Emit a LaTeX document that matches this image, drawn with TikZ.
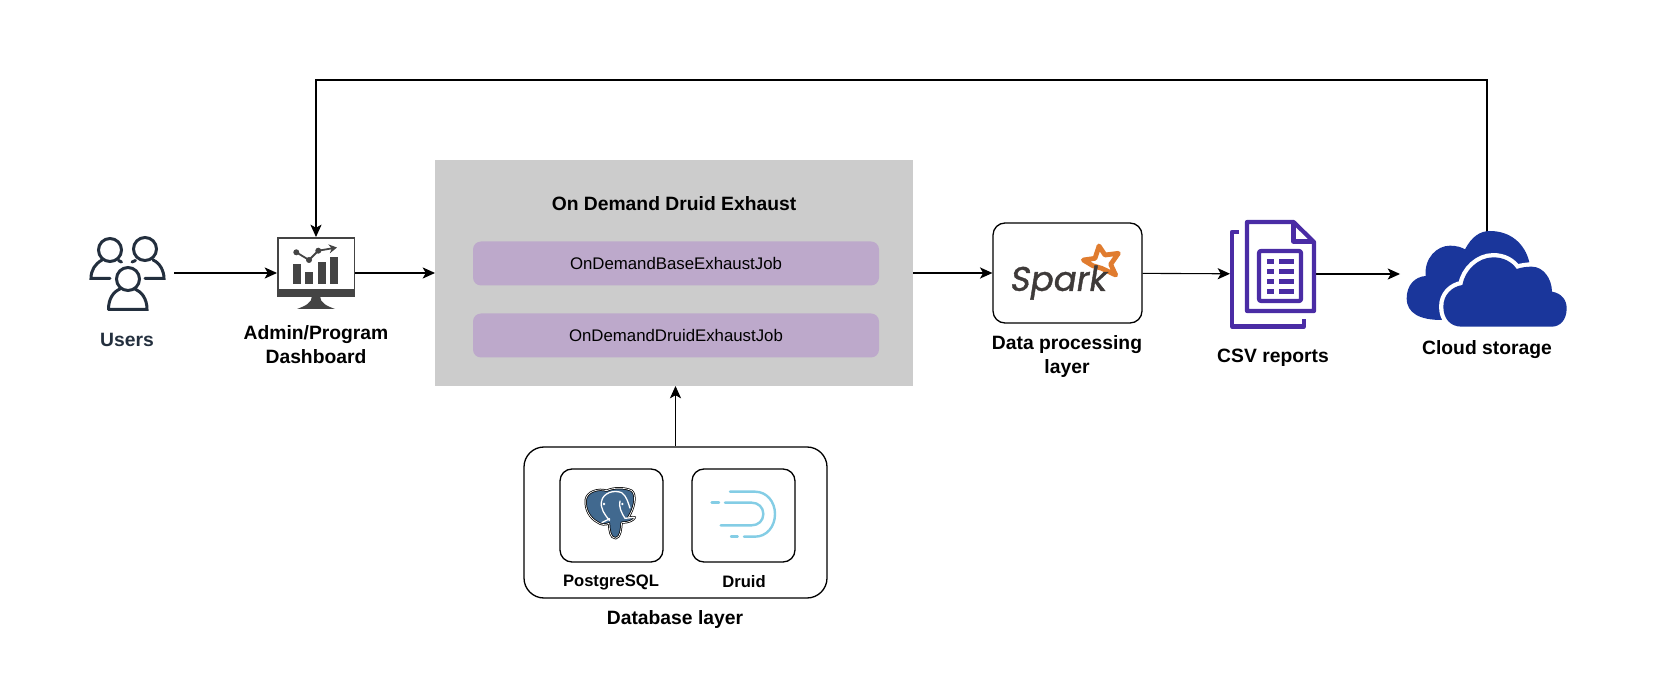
\documentclass[tikz,border=0pt]{standalone}
\usepackage{fontspec}
\setmainfont{Liberation Sans}
\newfontfamily\sparkfont[FakeSlant=0.16, FakeBold=1.2]{Poppins}
\usetikzlibrary{arrows.meta}

\definecolor{usersink}{HTML}{232F3E}
\definecolor{monitorgray}{HTML}{444444}
\definecolor{boxgray}{HTML}{CCCCCC}
\definecolor{jobpurple}{HTML}{BDA9CB}
\definecolor{csvpurple}{HTML}{4A2CA5}
\definecolor{cloudblue}{HTML}{1A369B}
\definecolor{pgblue}{HTML}{41698F}
\definecolor{druidblue}{HTML}{84CDE5}
\definecolor{sparkorange}{HTML}{E07C2F}
\definecolor{sparkink}{HTML}{3E3A39}

\tikzset{
	conn/.style={line width=0.55pt, -{Stealth[length=6.2pt, width=5.6pt, inset=1.6pt]}},
	bound/.style={inner sep=0pt, outer sep=0pt},
	tile/.style={draw, line width=0.65pt, fill=white, inner sep=0pt, rounded corners=6pt},
	jobrow/.style={fill=jobpurple, inner sep=0pt, rounded corners=4pt, minimum width=203pt, minimum height=22pt, font=\fontsize{8.4}{10}\selectfont},
	lbl/.style={align=center, inner sep=0pt, font=\bfseries\fontsize{9.65}{12}\selectfont},
	smalllbl/.style={lbl, font=\bfseries\fontsize{8.3}{10}\selectfont},
	zoomed/.style={x=0.16667pt, y=-0.16667pt}
}

\begin{document}
\begin{tikzpicture}[x=0.5pt, y=-0.5pt]
	\useasboundingbox (0, 0) rectangle (1654, 678);

	% nodes that carry the connectors
	\node[bound, minimum width=47pt, minimum height=37.5pt] (users) at (127, 273) {};
	\node[bound, minimum width=39pt, minimum height=36pt] (dash) at (316, 273) {};
	\node[bound, fill=boxgray, minimum width=239pt, minimum height=113pt] (exhaust) at (674, 273) {};
	\node[tile, minimum width=74.5pt, minimum height=50pt] (spark) at (1067.5, 273) {};
	\node[bound, minimum width=43pt, minimum height=54pt] (csv) at (1273, 274) {};
	\node[bound, minimum width=87pt, minimum height=48pt] (cloud) at (1487, 280) {};
	\node[tile, rounded corners=10pt, minimum width=151.5pt, minimum height=75.5pt] (db) at (675.5, 522.5) {};
	\node[tile, minimum width=51.5pt, minimum height=46.5pt] (pg) at (611.5, 515.5) {};
	\node[tile, minimum width=51.5pt, minimum height=46.5pt] (druid) at (743.5, 515.5) {};
	\coordinate (fold) at (316, 80);

	% texts
	\node[lbl] (title) at (674, 204) {On Demand Druid Exhaust};
	\node[jobrow] (basejob) at (676, 263.5) {OnDemandBaseExhaustJob\hspace{2.5pt}};
	\node[jobrow] (druidjob) at (676, 335.5) {OnDemandDruidExhaustJob\hspace{2.5pt}};
	\node[lbl, text=usersink] (lblusers) at (127, 340) {Users};
	\node[lbl] (lbldash) at (316, 344.5) {Admin/Program\\Dashboard};
	\node[lbl] (lblspark) at (1067, 357) {Data processing\\layer};
	\node[lbl] (lblcsv) at (1273, 358) {CSV reports};
	\node[lbl] (lblcloud) at (1487, 350) {Cloud storage};
	\node[smalllbl] (lblpg) at (611, 582) {PostgreSQL};
	\node[smalllbl] (lbldruid) at (744, 582) {Druid};
	\node[lbl] (lbldb) at (675, 620) {Database layer};

	% connectors
	\draw[conn] (users) -- (dash);
	\draw[conn] (dash) -- (exhaust);
	\draw[conn] (exhaust) -- (spark);
	\draw[conn] (spark) -- (csv);
	\draw[conn] (csv.east) -- (csv.east -| cloud.west);
	\draw[conn] (cloud.north) |- (fold) -- (dash.north);
	\draw[conn] (db.north) -- (db.north |- exhaust.south);

	% users icon
	\begin{scope}[draw=usersink, line width=1.5pt, line cap=round]
		\draw (110, 250) circle[radius=11.5];
		\draw (145, 249) circle[radius=11.5];
		\draw (110, 278.5) -- (91, 278.5) .. controls (91, 270) and (95, 264) .. (102, 260);
		\draw (118.5, 260.5) -- (121.5, 262);
		\draw (132, 262) -- (135.5, 260.5);
		\draw (153, 260) .. controls (160, 263) and (164, 271) .. (164, 278.5) -- (145, 278.5);
		\draw[fill=white] (128, 279) circle[radius=11.5];
		\draw (108.5, 309.5) -- (147, 309.5) .. controls (147, 299) and (142, 292) .. (135, 289);
		\draw (108.5, 309.5) .. controls (108.5, 299) and (113, 292) .. (120, 289);
	\end{scope}

	% monitor icon
	\draw[monitorgray, line width=0.9pt] (278, 238) rectangle (354.5, 296);
	\fill[monitorgray] (277, 289) rectangle (355, 297);
	\fill[monitorgray] (312, 296) -- (320, 296) .. controls (320, 303) and (327, 306) .. (335, 309) -- (297, 309) .. controls (305, 306) and (312, 303) .. (312, 296) -- cycle;
	\fill[monitorgray] (293.3, 264.3) rectangle (301.3, 284);
	\fill[monitorgray] (305.3, 271.7) rectangle (313.3, 284);
	\fill[monitorgray] (317.7, 261.7) rectangle (325.7, 284);
	\fill[monitorgray] (330, 257.3) rectangle (338, 284);
	\draw[monitorgray, line width=0.9pt, -{Stealth[length=4pt, width=4.5pt]}] (296.3, 252.3) -- (309, 260) -- (318.3, 250.7) -- (337, 247.5);
	\fill[monitorgray] (296.3, 252.3) circle[radius=3];
	\fill[monitorgray] (309, 260) circle[radius=3];
	\fill[monitorgray] (318.3, 250.7) circle[radius=3];

	% elephant
	\begin{scope}[shift={(575, 480)}, zoomed]
		\draw[fill=pgblue, line width=1.1pt, line join=round, postaction={draw=white, line width=0.35pt}] (32, 60) .. controls (35, 35) and (70, 24) .. (95, 32) .. controls (115, 22) and (150, 22) .. (170, 32) .. controls (186, 45) and (178, 85) .. (160, 112) .. controls (170, 112) and (178, 110) .. (180, 112) .. controls (175, 122) and (160, 128) .. (140, 128) .. controls (138, 145) and (138, 172) .. (122, 175) .. controls (105, 175) and (103, 150) .. (102, 130) .. controls (92, 135) and (78, 135) .. (68, 127) .. controls (45, 115) and (30, 90) .. (32, 60) -- cycle;
		\draw[white, line width=0.65pt] (80, 62) .. controls (85, 40) and (115, 28) .. (140, 38) .. controls (155, 48) and (160, 70) .. (165, 85);
		\draw[white, line width=0.65pt] (80, 62) .. controls (74, 85) and (90, 105) .. (104, 122);
		\draw[white, line width=0.65pt] (135, 62) .. controls (130, 80) and (140, 100) .. (150, 115) -- (178, 112);
		\draw[white, line width=0.65pt] (80, 128) -- (105, 116);
		\fill[white] (87, 72) circle[radius=4];
		\fill[white] (142, 72) circle[radius=4];
	\end{scope}

	% druid logo
	\begin{scope}[shift={(700, 480)}, zoomed, draw=druidblue, line width=1.2pt, line cap=round]
		\draw (90, 35) -- (165, 35) .. controls (200, 35) and (225, 65) .. (225, 102) .. controls (225, 140) and (200, 170) .. (165, 170) -- (132, 170);
		\draw (75, 68) -- (155, 68) .. controls (175, 68) and (190, 82) .. (190, 102) .. controls (190, 122) and (175, 136) .. (155, 136) -- (62, 136);
		\draw (35, 68) -- (57, 68);
		\draw (93, 170) -- (113, 170);
	\end{scope}

	% spark logo
	\begin{scope}[shift={(1000, 235)}, zoomed]
		\draw[sparkorange, line width=2.4pt, line join=round] (297, 33) -- (315, 60) -- (355, 55) -- (332, 88) -- (347, 120) -- (305, 100) -- (278, 92) -- (250, 75) -- (285, 70) -- cycle;
		\node[bound, text=sparkink, font=\sparkfont\fontsize{17}{17}\selectfont] (sparkword) at (172, 143) {Spark};
	\end{scope}

	% csv report icon
	\begin{scope}[draw=csvpurple, line width=2.1pt, line join=round]
		\draw (1239, 232) -- (1232, 232) -- (1232, 326.5) -- (1304, 326.5) -- (1304, 319);
		\draw (1247, 222) -- (1293.5, 222) -- (1314, 242) -- (1314, 311) -- (1247, 311) -- cycle;
		\draw (1293.5, 222) -- (1293.5, 241.5) -- (1314, 241.5);
		\draw[rounded corners=1pt] (1259, 251) rectangle (1301, 301);
		\foreach \rowy in {261.7, 271.7, 281.7, 291.7}{
			\fill[csvpurple] (1267, \rowy-2.2) rectangle (1274, \rowy+2.2);
			\fill[csvpurple] (1279, \rowy-2.2) rectangle (1294, \rowy+2.2);
		}
	\end{scope}

	% cloud icon
	\begin{scope}[shift={(1400, 225)}, zoomed]
		\fill[cloudblue] (125, 285) .. controls (60, 285) and (20, 265) .. (20, 220) .. controls (20, 180) and (45, 155) .. (77, 153) .. controls (72, 100) and (110, 62) .. (150, 62) .. controls (170, 62) and (185, 67) .. (195, 73) .. controls (215, 35) and (240, 18) .. (270, 18) .. controls (330, 18) and (375, 55) .. (388, 112) -- (300, 200) -- cycle;
		\fill[cloudblue, preaction={draw=white, line width=4.3pt}] (185, 305) .. controls (150, 305) and (130, 280) .. (130, 245) .. controls (130, 210) and (155, 185) .. (187, 180) .. controls (195, 135) and (235, 97) .. (280, 97) .. controls (310, 97) and (335, 110) .. (350, 132) .. controls (365, 127) and (380, 125) .. (395, 125) .. controls (430, 125) and (455, 160) .. (456, 200) .. controls (485, 205) and (500, 225) .. (500, 250) .. controls (500, 285) and (480, 305) .. (455, 305) -- cycle;
	\end{scope}
\end{tikzpicture}
\end{document}
